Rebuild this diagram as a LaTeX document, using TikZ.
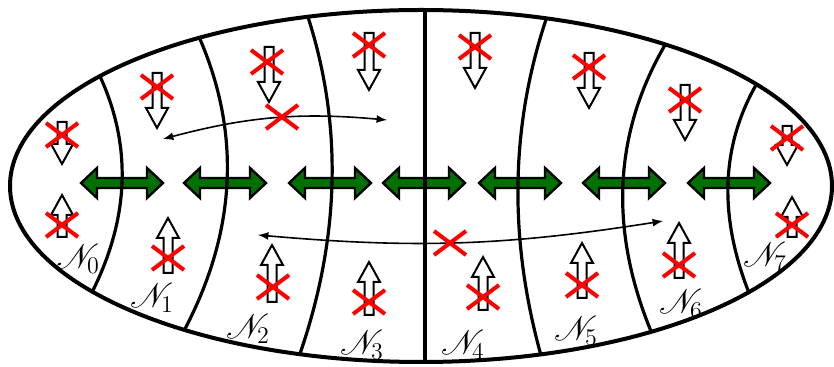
\documentclass[tikz,border=0pt]{standalone}
\usepackage{mathrsfs}
\definecolor{arrowgreen}{RGB}{0,112,0}
\begin{document}
\begin{tikzpicture}[x=0.5pt,y=-0.5pt,
  wall/.style={line width=1.6pt},
  lab/.style={inner sep=0pt,font=\fontsize{18}{18}\selectfont},
  flux/.pic={\draw[line width=1.2pt,fill=arrowgreen] (-41,0) -- (-25,-15) -- (-25,-5) -- (25,-5) -- (25,-15) -- (41,0) -- (25,15) -- (25,5) -- (-25,5) -- (-25,15) -- cycle;},
  spin/.pic={\draw[line width=1pt,fill=white] (-4.5,0) -- (4.5,0) -- (4.5,#1-20) -- (11,#1-20) -- (0,#1) -- (-11,#1-20) -- (-4.5,#1-20) -- cycle;},
  cross/.pic={\draw[red,line width=2pt] (-16,-12) -- (16,12) (-16,12) -- (16,-12);}]
  \useasboundingbox (0,0) rectangle (834,367);
  \foreach \x in {122,225,330,424,520,624,729}{
    \pic at (\x,183) {flux}; % green double arrows
  }
  \begin{scope}
    \clip (421,186) ellipse [x radius=411, y radius=176];
    \foreach \xt/\yt/\xm/\xb/\yb in {97/70/122/88/300, 195/28/227/179/340, 305/8/332/296/365,
      425/0/425/425/370, 550/8/518/544/366, 671/35/623/656/343, 762/75/728/754/305}{
      \pgfmathsetmacro\qx{2*\xm-(\xt+\xb)/2}
      \pgfmathsetmacro\qy{366-(\yt+\yb)/2}
      \draw[wall] (\xt,\yt) .. controls ({(\xt+2*\qx)/3},{(\yt+2*\qy)/3}) and ({(\xb+2*\qx)/3},{(\yb+2*\qy)/3}) .. (\xb,\yb); % walls
    }
  \end{scope}
  \draw[line width=2pt] (421,186) ellipse [x radius=411, y radius=176];
  \coordinate (a1) at (163,139);
  \coordinate (a2) at (387,120);
  \coordinate (b1) at (258,235);
  \coordinate (b2) at (663,221);
  \draw[latex-latex,line width=0.8pt] (a1) to[bend left=10] (a2);
  \draw[latex-latex,line width=0.8pt] (b1) to[bend right=7] (b2);
  \foreach \x/\t/\b in {62/122/164, 157/73/128, 269/47/102, 369/33/90, 475/33/88, 589/53/108, 685/85/140, 787/126/165}{
    \pic at (\x,\t) {spin={\b-\t}}; % down spins
  }
  \foreach \x/\b/\t in {62/237/195, 168/273/218, 272/302/245, 369/315/262, 483/310/257, 582/298/243, 679/278/223, 792/237/197}{
    \pic[rotate=180] at (\x,\b) {spin={\b-\t}}; % up spins
  }
  \foreach \x/\y in {62/135, 157/87, 267/62, 369/45, 475/47, 589/67, 685/100, 787/138,
    62/225, 168/258, 273/287, 369/302, 483/297, 582/285, 679/265, 792/225, 282/117, 450/243}{
    \pic at (\x,\y) {cross};
  }
  \foreach \i/\x/\y in {0/78/259, 1/152/298, 2/248/329, 3/362/345, 4/463/345, 5/576/331, 6/681/304, 7/765/257}{
    \node[lab] (n\i) at (\x,\y) {$\mathscr{N}_{\i}$};
  }
\end{tikzpicture}
\end{document}
